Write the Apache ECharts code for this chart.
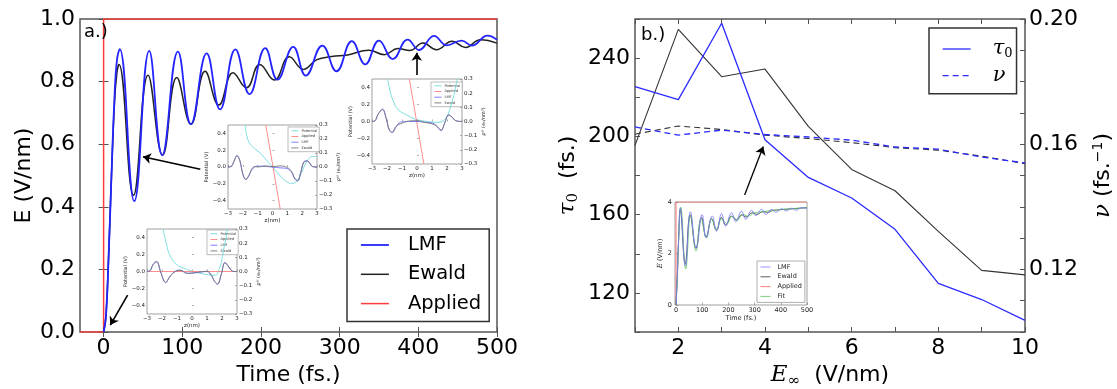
<!DOCTYPE html>
<html>
<head>
<meta charset="utf-8">
<script src="https://cdn.jsdelivr.net/npm/echarts@6/dist/echarts.min.js"></script>
<style>
  html, body { margin: 0; padding: 0; background: #fff; }
  #chart { width: 1117px; height: 389px; }
</style>
</head>
<body>
<div id="chart"></div>
<script>
// ---------- panel a: field inside the slab vs. time ----------
const timeTicks = [0, 100, 200, 300, 400, 500];
const lmfField = [[0,0],[3,0.05],[6.5,0.25],[10,0.5],[14,0.76],[17,0.87],[20.5,0.904],[39,0.418],[58,0.898],[74.5,0.565],
  [94.5,0.896],[111,0.664],[131,0.890],[148,0.711],[167.5,0.903],[185.5,0.760],[205.5,0.907],[221,0.806],[241,0.911],
  [257,0.819],[278,0.915],[296,0.833],[315.5,0.929],[332.5,0.855],[350,0.931],[367.5,0.872],[386.5,0.934],[401,0.901],
  [420,0.946],[436,0.916],[455,0.931],[468,0.915],[488,0.947],[500,0.934]];
const ewaldField = [[0,0],[3,0.05],[6.5,0.25],[10,0.5],[14,0.74],[17,0.83],[19.5,0.855],[38,0.437],[56.5,0.820],[75,0.565],
  [93,0.813],[111,0.664],[129,0.833],[146.5,0.725],[164.5,0.828],[181.5,0.780],[198.5,0.855],[217,0.805],[236,0.879],
  [254,0.839],[271,0.870],[290,0.880],[310,0.885],[337,0.900],[357,0.886],[374,0.906],[389,0.899],[406,0.923],[423,0.902],
  [443,0.929],[460,0.909],[479,0.934],[500,0.923]];
const appliedField = [[-30,0],[0,0],[0,1],[500,1]];

// potential and charge-density profiles across the slab (three snapshots)
const potTicks = [-0.4, -0.2, 0, 0.2, 0.4];
const pot1 = [[-1.85,0.5],[-1.7,0.35],[-1.5,0.27],[-1.2,0.22],[-0.9,0.177],[-0.4,0.08],[0.1,-0.02],[0.6,-0.12],[1.0,-0.18],
  [1.3,-0.195],[1.6,-0.175],[1.9,-0.09],[2.2,0.03],[2.5,0.11],[2.7,0.125],[3,0.125]];
const app1 = [[-0.45,0.5],[0.52,-0.5]];
const lmfRho1 = [[-3,0],[-2.8,0.003],[-2.6,0.04],[-2.4,0.082],[-2.2,0.045],[-2.0,-0.05],[-1.8,-0.09],[-1.6,-0.065],[-1.4,-0.02],
  [-1.2,0.0],[-1.0,0.006],[-0.5,0.004],[0,0],[0.5,-0.006],[1.0,-0.012],[1.3,-0.04],[1.5,-0.085],[1.7,-0.1],[1.9,-0.04],
  [2.1,0.035],[2.3,0.045],[2.5,0.03],[2.7,0.003],[3,0]];
const ewaldRho1 = [[-3,0],[-2.8,0.003],[-2.6,0.04],[-2.4,0.08],[-2.2,0.045],[-2.0,-0.05],[-1.8,-0.088],[-1.6,-0.06],[-1.4,-0.015],
  [-1.2,0.004],[-1.0,0.0],[-0.5,0.008],[0,0.002],[0.5,0.008],[1.0,-0.004],[1.3,-0.035],[1.5,-0.08],[1.7,-0.095],[1.9,-0.04],
  [2.1,0.03],[2.3,0.042],[2.5,0.028],[2.7,0.003],[3,0]];

const pot2 = [[-1.96,0.5],[-1.8,0.36],[-1.6,0.25],[-1.27,0.14],[-0.7,0.078],[-0.1,0.027],[0.7,0.0],[1.4,-0.01],[1.85,0.02],
  [2.1,0.1],[2.3,0.21],[2.5,0.34],[2.68,0.5]];
const app2 = [[-0.51,0.5],[0.46,-0.5]];
const lmfRho2 = [[-3,0],[-2.8,0.005],[-2.6,0.05],[-2.3,0.087],[-2.05,0.02],[-1.85,-0.06],[-1.65,-0.078],[-1.4,-0.04],[-1.1,-0.005],
  [-0.5,0.0],[0,0],[0.5,-0.005],[1.0,-0.01],[1.3,-0.03],[1.6,-0.065],[1.85,-0.01],[2.1,0.047],[2.3,0.035],[2.6,0.005],[3,0]];
const ewaldRho2 = [[-3,0],[-2.8,0.005],[-2.6,0.05],[-2.3,0.085],[-2.05,0.02],[-1.85,-0.058],[-1.65,-0.075],[-1.4,-0.035],
  [-1.0,-0.012],[-0.5,0.004],[0,0.006],[0.5,-0.006],[1.0,-0.016],[1.3,-0.032],[1.6,-0.06],[1.85,-0.01],[2.1,0.045],[2.3,0.034],
  [2.6,0.005],[3,0]];

const pot3 = [[-1.93,0.5],[-1.7,0.32],[-1.5,0.2],[-1.04,0.085],[-0.38,0.027],[0.51,-0.02],[1.18,-0.04],[1.55,-0.045],[1.84,0.04],
  [2.0,0.15],[2.1,0.25],[2.25,0.38],[2.37,0.5]];
const app3 = [[-3,0],[3,0]];
const lmfRho3 = [[-3,0],[-2.8,0.005],[-2.6,0.05],[-2.36,0.071],[-2.1,0.0],[-1.9,-0.06],[-1.76,-0.079],[-1.5,-0.04],[-1.2,-0.005],
  [-0.8,0.01],[-0.3,-0.014],[0,-0.01],[0.5,-0.005],[1.0,0.0],[1.3,-0.03],[1.5,-0.07],[1.7,-0.09],[1.95,-0.02],[2.2,0.064],
  [2.4,0.04],[2.6,0.01],[2.8,0.0],[3,0]];
const ewaldRho3 = [[-3,0],[-2.8,0.005],[-2.6,0.048],[-2.36,0.069],[-2.1,0.0],[-1.9,-0.058],[-1.76,-0.077],[-1.5,-0.04],[-1.2,-0.006],
  [-0.8,0.008],[-0.3,-0.012],[0,-0.012],[0.5,-0.004],[1.0,0.002],[1.3,-0.028],[1.5,-0.068],[1.7,-0.088],[1.95,-0.02],[2.2,0.062],
  [2.4,0.04],[2.6,0.01],[2.8,0.0],[3,0]];

// annotation arrows in panel a: [fromTime, fromField, toTime, toField]
const arrowsA = [[122.9,0.52,50,0.56],[398,0.821,398,0.892],[30.5,0.118,8.5,0.022]];

// ---------- panel b: decay time and frequency vs. applied field ----------
const eInf = [1,2,3,4,5,6,7,8,9,10];
const tauLMF = [225.4,218.8,257.8,198.3,179.0,168.5,152.5,124.9,116.6,105.9];
const tauEwald = [195.4,254.7,230.5,234.4,205.1,183.1,172.2,151.4,131.5,129.2];
const nuLMF = [0.1655,0.1629,0.1645,0.1631,0.1623,0.1613,0.1591,0.1584,0.1559,0.1540];
const nuEwald = [0.1632,0.1658,0.1647,0.1629,0.1618,0.1605,0.1589,0.1581,0.1562,0.1538];
const tauLabels = [120,160,200,240];
const nuLabels = ['0.12','0.16','0.20'];
const arrowB = [[3.53,170,3.96,194.8]];

// small panel: response at E = 4 V/nm
const insetTimeTicks = [0,100,200,300,400,500];
const lmf4 = [[0,0],[5,1.2],[10,2.6],[16.6,3.77],[35.8,1.52],[55,3.62],[77,2.2],[99.7,3.51],[115,2.61],[138,3.46],[155,2.87],
  [174,3.55],[189,3.07],[212,3.58],[228,3.23],[250,3.64],[266,3.33],[289,3.68],[304,3.47],[327,3.72],[343,3.51],[366,3.72],
  [381,3.6],[404,3.74],[420,3.65],[442,3.76],[458,3.68],[480,3.78],[500,3.75]];
const ewald4 = [[0,0],[5,1.2],[10,2.6],[16,3.7],[35,1.6],[54,3.5],[76,2.2],[97,3.4],[115,2.65],[136,3.35],[154,2.9],[173,3.4],
  [190,3.1],[212,3.45],[230,3.3],[250,3.5],[268,3.42],[290,3.58],[310,3.52],[330,3.62],[350,3.6],[370,3.67],[400,3.7],
  [450,3.74],[500,3.78]];
const applied4 = [[0,0],[0,4],[500,4]];
const fit4 = [[0,0],[5,1.0],[10,2.5],[18,3.8],[37,1.4],[56,3.5],[76,2.1],[96,3.35],[116,2.6],[136,3.35],[155,2.95],[175,3.35],
  [194,3.15],[214,3.45],[234,3.3],[254,3.52],[274,3.45],[300,3.58],[330,3.62],[360,3.66],[400,3.71],[450,3.75],[500,3.78]];

// ---------- styling helpers ----------
const FONT = 'DejaVu Sans';
const SERIF = 'DejaVu Serif';
const SPINE = '#555';
const BIG = 22;
const minus = s => s.replace('-', '\u2212');
const fmt1 = v => Math.abs(v) < 1e-9 ? '0.0' : minus(v.toFixed(1));

const baseName = n => n.split('|')[0];

function insetXAxis(g) {
  return {
    gridIndex: g, type: 'value', min: -3, max: 3, interval: 1,
    axisLine: { show: false }, splitLine: { show: false },
    axisTick: { inside: true, length: 2, lineStyle: { color: '#777', width: 0.6 } },
    axisLabel: { fontSize: 5.5, fontFamily: FONT, color: '#222', margin: 2,
      formatter: v => minus(String(Math.round(v))) },
    name: 'z(nm)', nameLocation: 'middle', nameGap: 9,
    nameTextStyle: { fontSize: 5.5, fontFamily: FONT, color: '#222' }
  };
}
function insetYAxes(g) {
  return [{
    gridIndex: g, type: 'value', min: -0.5, max: 0.5, position: 'left',
    axisLine: { show: false }, splitLine: { show: false },
    axisTick: { inside: true, length: 2, customValues: potTicks, lineStyle: { color: '#777', width: 0.6 } },
    axisLabel: { fontSize: 5.5, fontFamily: FONT, color: '#222', margin: 2, customValues: potTicks, formatter: fmt1 },
    name: 'Potential (V)', nameLocation: 'middle', nameGap: 19, nameRotate: 90,
    nameTextStyle: { fontSize: 5, fontFamily: FONT, color: '#222' }
  }, {
    gridIndex: g, type: 'value', min: -0.3, max: 0.3, interval: 0.1, position: 'right',
    axisLine: { show: false }, splitLine: { show: false },
    axisTick: { inside: true, length: 2, lineStyle: { color: '#777', width: 0.6 } },
    axisLabel: { fontSize: 5.5, fontFamily: FONT, color: '#222', margin: 2, formatter: fmt1 },
    name: '\u03c1\u1d49\u02e1 (e\u2080/nm\u00b3)', nameLocation: 'middle', nameGap: 14, nameRotate: 90,
    nameTextStyle: { fontSize: 5, fontFamily: FONT, color: '#222' }
  }];
}
function line(name, xi, yi, data, color, width, extra) {
  return Object.assign({
    type: 'line', name, xAxisIndex: xi, yAxisIndex: yi, data,
    symbol: 'none', silent: true, animation: false,
    lineStyle: { color, width }, itemStyle: { color }
  }, extra || {});
}
function insetSeries(k, xi, yl, yr, pot, app, lmf, ewd) {
  return [
    line('Potential|' + k, xi, yl, pot, '#6fdada', 0.9, { smooth: 0.4, z: 5 }),
    line('Applied|' + k, xi, yl, app, '#ff8080', 0.9, { z: 5 }),
    line('LMF|' + k, xi, yr, lmf, '#6f6fff', 0.9, { smooth: 0.4, z: 6 }),
    line('Ewald|' + k, xi, yr, ewd, '#777777', 0.9, { smooth: 0.4, z: 6 })
  ];
}
function insetLegend(k, left, top) {
  return {
    data: ['Potential|' + k, 'Applied|' + k, 'LMF|' + k, 'Ewald|' + k],
    left, top, orient: 'vertical', selectedMode: false,
    backgroundColor: '#fff', borderColor: '#aaa', borderWidth: 0.8,
    padding: [1.5, 2, 1.5, 3], itemWidth: 7, itemHeight: 4.6, itemGap: 1.1,
    itemStyle: { opacity: 0 }, lineStyle: { width: 'inherit' },
    formatter: baseName,
    textStyle: { fontSize: 3.6, lineHeight: 4.6, fontFamily: FONT, color: '#333', padding: [0, 0, 0, -2] }
  };
}
function arrowLines(list) {
  return list.map(a => [{ coord: [a[0], a[1]] }, { coord: [a[2], a[3]] }]);
}

const option = {
  backgroundColor: '#fff',
  animation: false,
  title: [
    { text: 'a.)', left: 84, top: 23, padding: 0, textStyle: { fontSize: 18, fontWeight: 'normal', fontFamily: FONT, color: '#000' } },
    { text: 'b.)', left: 641, top: 26, padding: 0, textStyle: { fontSize: 18, fontWeight: 'normal', fontFamily: FONT, color: '#000' } }
  ],
  grid: [
    { left: 80, top: 19, width: 417, height: 313, show: true, borderColor: SPINE, borderWidth: 1.5, backgroundColor: '#fff', outerBoundsMode: 'none' },
    { left: 228, top: 125, width: 89, height: 84, show: true, borderColor: '#888', borderWidth: 0.8, backgroundColor: '#fff', outerBoundsMode: 'none' },
    { left: 372, top: 79, width: 90, height: 85, show: true, borderColor: '#888', borderWidth: 0.8, backgroundColor: '#fff', outerBoundsMode: 'none' },
    { left: 147, top: 229, width: 90, height: 85, show: true, borderColor: '#888', borderWidth: 0.8, backgroundColor: '#fff', outerBoundsMode: 'none' },
    { left: 635, top: 19, width: 390, height: 313, show: true, borderColor: SPINE, borderWidth: 1.5, backgroundColor: '#fff', outerBoundsMode: 'none' },
    { left: 675, top: 202, width: 132, height: 103, show: true, borderColor: '#888', borderWidth: 0.8, backgroundColor: '#fff', outerBoundsMode: 'none' }
  ],
  xAxis: [
    { gridIndex: 0, type: 'value', min: -30, max: 500, position: 'bottom',
      axisLine: { show: false }, splitLine: { show: false },
      axisTick: { inside: true, length: 5, customValues: timeTicks, lineStyle: { color: SPINE } },
      axisLabel: { customValues: timeTicks, fontSize: BIG, fontFamily: FONT, color: '#000', margin: 5 },
      name: 'Time (fs.)', nameLocation: 'middle', nameGap: 30,
      nameTextStyle: { fontSize: BIG, fontFamily: FONT, color: '#000' } },
    { gridIndex: 0, type: 'value', min: -30, max: 500, position: 'top',
      axisLine: { show: false }, splitLine: { show: false },
      axisTick: { inside: true, length: 5, customValues: timeTicks, lineStyle: { color: SPINE } },
      axisLabel: { show: false } },
    insetXAxis(1), insetXAxis(2), insetXAxis(3),
    { gridIndex: 4, type: 'value', min: 1, max: 10, interval: 1, position: 'bottom',
      axisLine: { show: false }, splitLine: { show: false },
      axisTick: { inside: true, length: 5, lineStyle: { color: SPINE } },
      axisLabel: { fontSize: BIG, fontFamily: FONT, color: '#000', margin: 5,
        formatter: v => (Math.round(v) % 2 === 0 ? String(Math.round(v)) : '') },
      name: '{i|E}{s|\u221e}  (V/nm)', nameLocation: 'middle', nameGap: 29,
      nameTextStyle: { fontSize: BIG, fontFamily: FONT, color: '#000',
        rich: { i: { fontFamily: SERIF, fontStyle: 'italic', fontSize: 23, color: '#000' },
                s: { fontFamily: SERIF, fontSize: 15, color: '#000', padding: [11, 0, 0, 0] } } } },
    { gridIndex: 4, type: 'value', min: 1, max: 10, interval: 1, position: 'top',
      axisLine: { show: false }, splitLine: { show: false },
      axisTick: { inside: true, length: 5, lineStyle: { color: SPINE } },
      axisLabel: { show: false } },
    { gridIndex: 5, type: 'value', min: -4, max: 500,
      axisLine: { show: false }, splitLine: { show: false },
      axisTick: { inside: true, length: 2.5, customValues: insetTimeTicks, lineStyle: { color: '#777', width: 0.6 } },
      axisLabel: { customValues: insetTimeTicks, fontSize: 6.5, fontFamily: FONT, color: '#222', margin: 2 },
      name: 'Time (fs.)', nameLocation: 'middle', nameGap: 10,
      nameTextStyle: { fontSize: 6.5, fontFamily: FONT, color: '#222' } }
  ],
  yAxis: [
    { gridIndex: 0, type: 'value', min: 0, max: 1, interval: 0.2, position: 'left',
      axisLine: { show: false }, splitLine: { show: false },
      axisTick: { inside: true, length: 5, lineStyle: { color: SPINE } },
      axisLabel: { fontSize: BIG, fontFamily: FONT, color: '#000', margin: 5, formatter: v => v.toFixed(1) },
      name: 'E (V/nm)', nameLocation: 'middle', nameGap: 45, nameRotate: 90,
      nameTextStyle: { fontSize: BIG, fontFamily: FONT, color: '#000' } },
    { gridIndex: 0, type: 'value', min: 0, max: 1, interval: 0.2, position: 'right',
      axisLine: { show: false }, splitLine: { show: false },
      axisTick: { inside: true, length: 5, lineStyle: { color: SPINE } },
      axisLabel: { show: false } },
    ...insetYAxes(1), ...insetYAxes(2), ...insetYAxes(3),
    { gridIndex: 4, type: 'value', min: 100, max: 260, interval: 20, position: 'left',
      axisLine: { show: false }, splitLine: { show: false },
      axisTick: { inside: true, length: 5, lineStyle: { color: SPINE } },
      axisLabel: { fontSize: BIG, fontFamily: FONT, color: '#000', margin: 5,
        formatter: v => (tauLabels.indexOf(Math.round(v)) >= 0 ? String(Math.round(v)) : '') },
      name: '{i|\u03c4}{s|0}  (fs.)', nameLocation: 'middle', nameGap: 54, nameRotate: 90,
      nameTextStyle: { fontSize: BIG, fontFamily: FONT, color: '#000',
        rich: { i: { fontFamily: SERIF, fontStyle: 'italic', fontSize: 23, color: '#000' },
                s: { fontFamily: SERIF, fontSize: 15, color: '#000', padding: [11, 0, 0, 0] } } } },
    { gridIndex: 4, type: 'value', min: 0.10, max: 0.20, interval: 0.01, position: 'right',
      axisLine: { show: false }, splitLine: { show: false },
      axisTick: { inside: true, length: 5, lineStyle: { color: SPINE } },
      axisLabel: { fontSize: BIG, fontFamily: FONT, color: '#000', margin: 4,
        formatter: v => (nuLabels.indexOf(v.toFixed(2)) >= 0 ? v.toFixed(2) : '') },
      name: '{i|\u03bd} (fs.{p|\u22121})', nameLocation: 'middle', nameGap: 66, nameRotate: 90,
      nameTextStyle: { fontSize: BIG, fontFamily: FONT, color: '#000',
        rich: { i: { fontFamily: SERIF, fontStyle: 'italic', fontSize: 23, color: '#000' },
                p: { fontFamily: FONT, fontSize: 14, color: '#000', padding: [0, 0, 10, 0] } } } },
    { gridIndex: 5, type: 'value', min: 0, max: 4, interval: 2,
      axisLine: { show: false }, splitLine: { show: false },
      axisTick: { inside: true, length: 2.5, lineStyle: { color: '#777', width: 0.6 } },
      axisLabel: { fontSize: 6.5, fontFamily: FONT, color: '#222', margin: 3 },
      name: '{i|E} (V/nm)', nameLocation: 'middle', nameGap: 10, nameRotate: 90,
      nameTextStyle: { fontSize: 6.5, fontFamily: FONT, color: '#222',
        rich: { i: { fontFamily: SERIF, fontStyle: 'italic', fontSize: 7, color: '#222' } } } }
  ],
  legend: [
    { data: ['LMF', 'Ewald', 'Applied'], left: 347, top: 229, orient: 'vertical', selectedMode: false,
      backgroundColor: '#fff', borderColor: '#333', borderWidth: 1.5, padding: [6, 8, 8, 13],
      itemWidth: 28, itemHeight: 20, itemGap: 9.3,
      itemStyle: { opacity: 0 }, lineStyle: { width: 'inherit' },
      textStyle: { fontSize: 19.5, lineHeight: 20, fontFamily: FONT, color: '#000', padding: [0, 0, 0, 14] } },
    insetLegend(1, 288, 127), insetLegend(2, 431, 82), insetLegend(3, 207, 230),
    { data: ['\u03c40', '\u03bd'], left: 929, top: 28, orient: 'vertical', selectedMode: false,
      backgroundColor: '#fff', borderColor: '#333', borderWidth: 1.5, padding: [10, 4, 7, 13],
      itemWidth: 28, itemHeight: 22, itemGap: 4.7,
      itemStyle: { opacity: 0 }, lineStyle: { width: 'inherit' },
      formatter: n => (n === '\u03c40' ? '{i|\u03c4}{s|0}' : '{i|\u03bd}'),
      textStyle: { fontSize: 20, lineHeight: 22, fontFamily: SERIF, color: '#000', padding: [0, 0, 0, 17],
        rich: { i: { fontFamily: SERIF, fontStyle: 'italic', fontSize: 21, color: '#000' },
                s: { fontFamily: SERIF, fontSize: 13, color: '#000', padding: [9, 0, 0, 0] } } } },
    { data: ['LMF|b', 'Ewald|b', 'Applied|b', 'Fit|b'], left: 757, top: 261, orient: 'vertical', selectedMode: false,
      backgroundColor: '#fff', borderColor: '#999', borderWidth: 0.8, padding: [2, 3, 2, 3],
      itemWidth: 10, itemHeight: 8, itemGap: 1.8,
      itemStyle: { opacity: 0 }, lineStyle: { width: 'inherit' },
      formatter: baseName,
      textStyle: { fontSize: 6.5, lineHeight: 8, fontFamily: FONT, color: '#222', padding: [0, 0, 0, 2] } }
  ],
  series: [
    line('Applied', 0, 0, appliedField, '#ff3b3b', 1.5, { z: 3 }),
    line('Ewald', 0, 0, ewaldField, '#222222', 1.5, { smooth: 0.45, z: 3 }),
    line('LMF', 0, 0, lmfField, '#2424ff', 1.8, { smooth: 0.45, z: 4,
      markLine: { silent: true, animation: false, symbol: ['none', 'arrow'], symbolSize: 8,
        lineStyle: { color: '#000', width: 1.6, type: 'solid' }, label: { show: false },
        emphasis: { disabled: true }, data: arrowLines(arrowsA) } }),
    ...insetSeries(1, 2, 2, 3, pot1, app1, lmfRho1, ewaldRho1),
    ...insetSeries(2, 3, 4, 5, pot2, app2, lmfRho2, ewaldRho2),
    ...insetSeries(3, 4, 6, 7, pot3, app3, lmfRho3, ewaldRho3),
    line('\u03c4E', 5, 8, eInf.map((x, i) => [x, tauEwald[i]]), '#333333', 1.1, { z: 3 }),
    line('\u03bdE', 5, 9, eInf.map((x, i) => [x, nuEwald[i]]), '#333333', 1.1, { z: 3,
      lineStyle: { color: '#333333', width: 1.1, type: [6, 4] } }),
    line('\u03c40', 5, 8, eInf.map((x, i) => [x, tauLMF[i]]), '#2a2aff', 1.3, { z: 4,
      markLine: { silent: true, animation: false, symbol: ['none', 'arrow'], symbolSize: 8,
        lineStyle: { color: '#000', width: 1.3, type: 'solid' }, label: { show: false },
        emphasis: { disabled: true }, data: arrowLines(arrowB) } }),
    line('\u03bd', 5, 9, eInf.map((x, i) => [x, nuLMF[i]]), '#2a2aff', 1.3, { z: 4,
      lineStyle: { color: '#2a2aff', width: 1.3, type: [6, 4] } }),
    line('Applied|b', 7, 10, applied4, '#ff7070', 0.9, { z: 5 }),
    line('Ewald|b', 7, 10, ewald4, '#333333', 0.8, { smooth: 0.45, z: 6 }),
    line('Fit|b', 7, 10, fit4, '#5cc45c', 0.8, { smooth: 0.45, z: 6 }),
    line('LMF|b', 7, 10, lmf4, '#7878ff', 0.8, { smooth: 0.45, z: 7 })
  ]
};

const chart = echarts.init(document.getElementById('chart'), null, { renderer: 'canvas' });
chart.setOption(option);
</script>
</body>
</html>
